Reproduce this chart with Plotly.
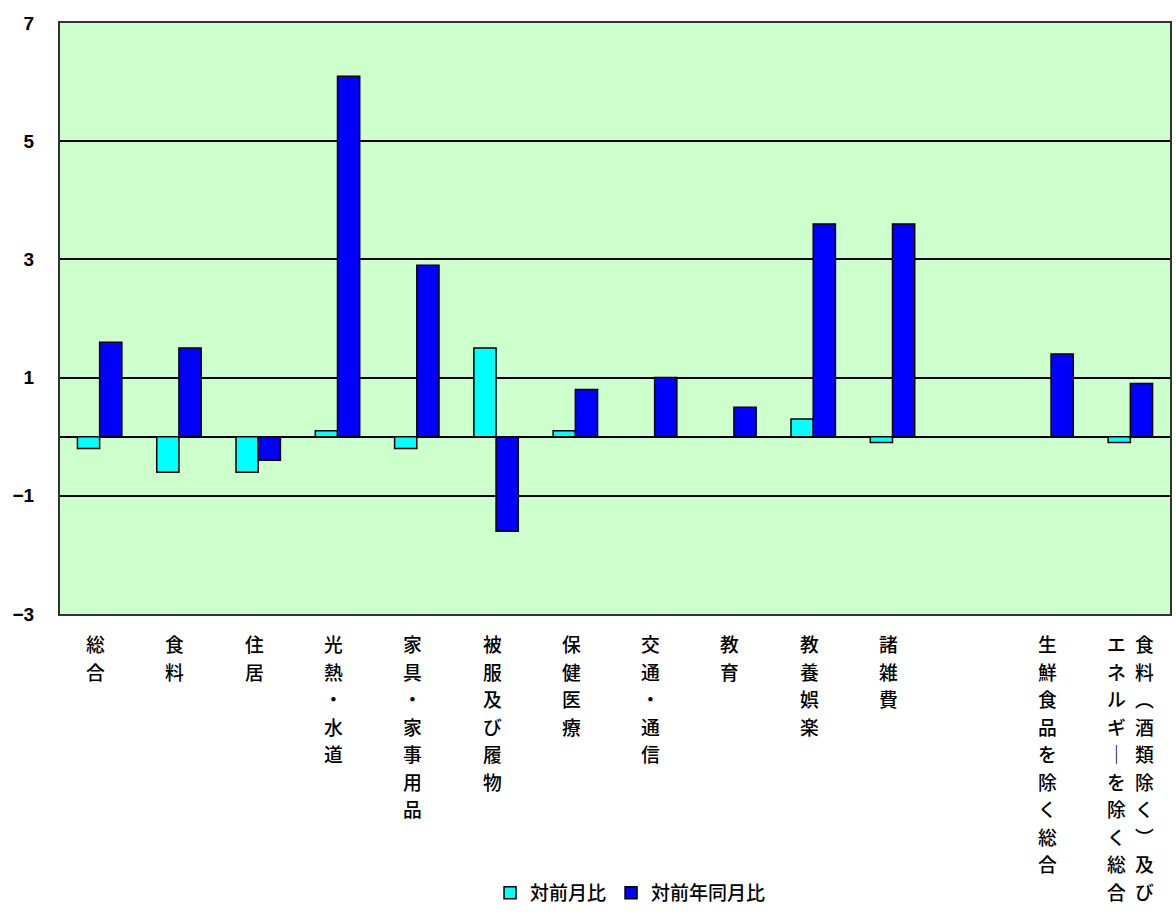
import plotly.graph_objects as go

# Categories (one empty slot separates the core indices)
categories = [
    "総合", "食料", "住居", "光熱・水道", "家具・家事用品", "被服及び履物",
    "保健医療", "交通・通信", "教育", "教養娯楽", "諸雑費", "",
    "生鮮食品を除く総合", "食料（酒類除く）及びエネルギーを除く総合",
]
# Vertical label columns per category (right-to-left columns)
label_columns = [
    ["総合"], ["食料"], ["住居"], ["光熱・水道"], ["家具・家事用品"], ["被服及び履物"],
    ["保健医療"], ["交通・通信"], ["教育"], ["教養娯楽"], ["諸雑費"], [],
    ["生鮮食品を除く総合"], ["食料︵酒類除く︶及び", "エネルギ｜を除く総合"],
]
mom = [-0.2, -0.6, -0.6, 0.1, -0.2, 1.5, 0.1, 0.0, 0.0, 0.3, -0.1, None, 0.0, -0.1]
yoy = [1.6, 1.5, -0.4, 6.1, 2.9, -1.6, 0.8, 1.0, 0.5, 3.6, 3.6, None, 1.4, 0.9]
series_names = ["対前月比", "対前年同月比"]
y_ticks = [-3, -1, 1, 3, 5, 7]

xs = list(range(len(categories)))

fig = go.Figure()
fig.add_trace(go.Bar(x=xs, y=mom, name=series_names[0],
                     marker=dict(color="#00FFFF", line=dict(color="#000000", width=1.5))))
fig.add_trace(go.Bar(x=xs, y=yoy, name=series_names[1],
                     marker=dict(color="#0000FF", line=dict(color="#000000", width=1.5))))

jp_font = "Noto Sans CJK JP"
char_size = 18.8
char_pitch = 27.5
annotations = []
# vertical writing: one glyph per annotation, stacked downwards
for i, cols in enumerate(label_columns):
    n = len(cols)
    for j, col in enumerate(cols):
        shift = (n - 1) * 14 - j * 28 if n > 1 else -4
        for k, ch in enumerate(col):
            annotations.append(dict(
                x=i, y=0, xref="x", yref="paper", xanchor="center", yanchor="top",
                xshift=shift, yshift=-15 - k * char_pitch, showarrow=False,
                text=ch, borderpad=0,
                font=dict(family=jp_font, size=char_size, color="#000000", weight=500),
            ))

fig.update_layout(
    width=1176, height=923,
    margin=dict(l=60, r=4, t=23, b=309),
    paper_bgcolor="#FFFFFF", plot_bgcolor="#CCFFCC",
    barmode="group", bargap=0.44, bargroupgap=0,
    showlegend=True,
    legend=dict(orientation="h", x=0.514, y=-0.472, xanchor="center", yanchor="middle",
                font=dict(family=jp_font, size=19, color="#000000", weight=500),
                itemwidth=30, traceorder="normal"),
    annotations=annotations,
)
fig.update_xaxes(range=[-0.5, len(categories) - 0.5], showticklabels=False,
                 showgrid=False, zeroline=False, showline=True, mirror=True,
                 linecolor="#333333", linewidth=2, ticks="")
fig.update_yaxes(range=[-3, 7], tickvals=y_ticks,
                 ticktext=[str(v).replace("-", "−") for v in y_ticks],
                 tickfont=dict(family="Liberation Sans", size=19, color="#000000", weight="bold"),
                 showgrid=True, gridcolor="#000000", gridwidth=1.5,
                 zeroline=True, zerolinecolor="#000000", zerolinewidth=1.5,
                 showline=True, mirror=True, linecolor="#333333", linewidth=2,
                 ticks="", ticklabelstandoff=20)

fig.write_html("out.html")
